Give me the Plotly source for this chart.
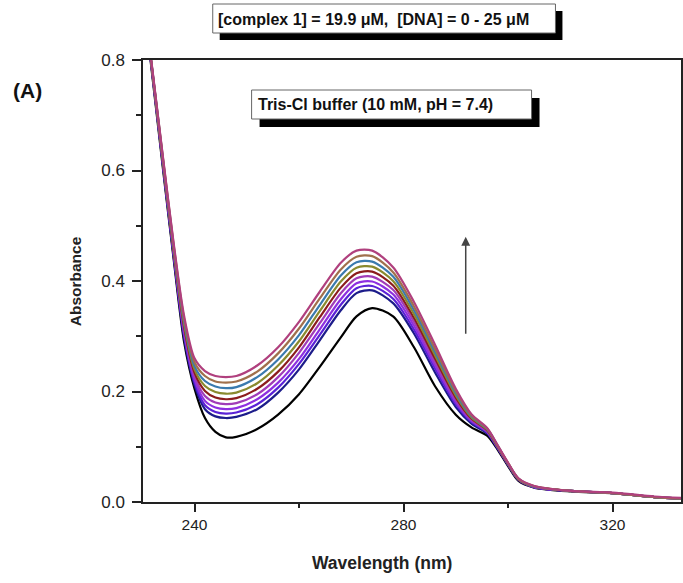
import plotly.graph_objects as go

# ---------------- data ----------------
wavelength = [230, 232, 234, 236, 238, 240, 242, 244, 246, 248, 252, 256, 260, 264, 268, 271,
              274, 278, 282, 286, 290, 293, 296, 298, 300, 302, 305, 312, 320, 328, 334]

abs_0 = [.93, .765, .60, .44, .29, .205, .152, .127, .117, .118, .132, .158, .195, .245, .298, .336,
         .351, .336, .28, .21, .158, .135, .12, .095, .065, .038, .026, .019, .016, .009, .006]
abs_1 = [.93, .77, .605, .445, .297, .212, .168, .155, .152, .154, .168, .198, .24, .293, .347, .378,
         .383, .36, .305, .235, .172, .142, .124, .097, .067, .04, .027, .02, .016, .009, .006]
abs_2 = [.93, .77, .607, .448, .302, .217, .175, .163, .160, .162, .177, .207, .25, .303, .357, .387,
         .391, .368, .312, .242, .177, .145, .126, .098, .068, .04, .027, .02, .016, .009, .006]
abs_3 = [.93, .772, .609, .451, .307, .222, .183, .171, .168, .170, .186, .216, .259, .313, .367, .396,
         .399, .376, .319, .248, .181, .147, .127, .099, .068, .041, .027, .02, .016, .009, .006]
abs_4 = [.93, .772, .611, .454, .312, .228, .192, .180, .177, .179, .195, .226, .27, .324, .378, .405,
         .408, .384, .326, .254, .185, .149, .128, .1, .069, .041, .028, .02, .016, .009, .006]
abs_5 = [.93, .774, .613, .457, .317, .234, .201, .189, .186, .188, .205, .236, .28, .335, .388, .414,
         .417, .392, .333, .26, .189, .151, .13, .1, .069, .041, .028, .02, .016, .009, .006]
abs_6 = [.93, .774, .615, .460, .322, .240, .210, .199, .196, .198, .215, .247, .291, .346, .399, .424,
         .426, .4, .34, .266, .193, .153, .131, .101, .07, .042, .028, .02, .016, .009, .006]
abs_7 = [.93, .776, .617, .463, .327, .246, .219, .209, .206, .208, .226, .258, .302, .357, .41, .434,
         .435, .408, .347, .272, .197, .155, .132, .102, .07, .042, .028, .02, .016, .009, .006]
abs_8 = [.93, .776, .619, .466, .332, .253, .228, .218, .216, .218, .236, .269, .314, .369, .421, .444,
         .445, .416, .354, .278, .201, .157, .133, .102, .071, .042, .029, .02, .016, .009, .006]
abs_9 = [.93, .778, .621, .469, .337, .26, .237, .228, .226, .228, .247, .28, .326, .381, .433, .455,
         .455, .425, .362, .285, .205, .159, .134, .103, .071, .043, .029, .02, .017, .01, .007]

series = [abs_0, abs_1, abs_2, abs_3, abs_4, abs_5, abs_6, abs_7, abs_8, abs_9]
colors = ["#000000", "#1c1c8a", "#5a22d6", "#8e2fe0", "#a03cb8", "#8b1c1c",
          "#8a8a2e", "#3a7aae", "#a0704c", "#b0407e"]

x_ticks = [240, 280, 320]
y_ticks = [0.0, 0.2, 0.4, 0.6, 0.8]
y_tick_text = ["0.0", "0.2", "0.4", "0.6", "0.8"]

# ---------------- figure ----------------
W, H = 683, 583
L, R, T, B = 143, 683, 60, 502  # plot area pixel box


def px(x):
    return (x - L) / (R - L)


def py(y):
    return (B - y) / (B - T)


fig = go.Figure()
for vals, col in zip(series, colors):
    fig.add_trace(go.Scatter(x=wavelength, y=vals, mode="lines",
                             line=dict(color=col, width=2.2, shape="spline", smoothing=0.8),
                             showlegend=False, hoverinfo="skip"))

font_family = "Liberation Sans, Arial, sans-serif"

fig.update_layout(
    width=W, height=H,
    margin=dict(l=L, r=W - R, t=T, b=H - B),
    paper_bgcolor="white", plot_bgcolor="white",
    font=dict(family=font_family, size=15, color="#222"),
    xaxis=dict(range=[230.14, 333.1], tickvals=x_ticks, ticks="outside", ticklen=8,
               tickwidth=1.5, tickcolor="#222", showline=True, linecolor="#222", linewidth=1.5,
               mirror=True, showgrid=False, zeroline=False,
               minor=dict(dtick=20, tick0=240, ticks="outside", ticklen=4, tickcolor="#222", tickwidth=1.5),
               tickfont=dict(size=15.5)),
    yaxis=dict(range=[0, 0.8], tickvals=y_ticks, ticktext=y_tick_text, ticks="outside", ticklen=9,
               tickwidth=1.5, tickcolor="#222", showline=True, linecolor="#222", linewidth=1.5,
               mirror=True, showgrid=False, zeroline=False, ticklabelstandoff=4,
               minor=dict(dtick=0.1, tick0=0, ticks="outside", ticklen=5, tickcolor="#222", tickwidth=1.5),
               tickfont=dict(size=17)),
)

# boxes with shadows
def shadow_box(x0, y0, x1, y1, off):
    fig.add_shape(type="rect", xref="paper", yref="paper",
                  x0=px(x0 + off), x1=px(x1 + off), y0=py(y1 + off), y1=py(y0 + off),
                  fillcolor="black", line=dict(width=0), layer="above")
    fig.add_shape(type="rect", xref="paper", yref="paper",
                  x0=px(x0), x1=px(x1), y0=py(y1), y1=py(y0),
                  fillcolor="white", line=dict(color="#666", width=1), layer="above")


shadow_box(213, 4, 557, 33, 7)
shadow_box(252, 90, 533, 119, 8)

fig.add_annotation(xref="paper", yref="paper", x=px(216), y=py(19), xanchor="left", yanchor="middle",
                   text="<b>[complex 1] = 19.9 μM,  [DNA] = 0 - 25 μM</b>", showarrow=False,
                   font=dict(size=16, color="#111"))
fig.add_annotation(xref="paper", yref="paper", x=px(256), y=py(104), xanchor="left", yanchor="middle",
                   text="<b>Tris-Cl buffer (10 mM, pH = 7.4)</b>", showarrow=False,
                   font=dict(size=16, color="#111"))
fig.add_annotation(xref="paper", yref="paper", x=px(27), y=py(91), xanchor="center", yanchor="middle",
                   text="<b>(A)</b>", showarrow=False, font=dict(size=21, color="#111"))

# axis titles
fig.add_annotation(xref="paper", yref="paper", x=px(383), y=py(563), xanchor="center", yanchor="middle",
                   text="<b>Wavelength (nm)</b>", showarrow=False, font=dict(size=17.5, color="#222"))
fig.add_annotation(xref="paper", yref="paper", x=px(75), y=py(281), xanchor="center", yanchor="middle",
                   text="<b>Absorbance</b>", textangle=-90, showarrow=False, font=dict(size=15.5, color="#222"))

# arrow
fig.add_annotation(x=291.9, y=0.48, ax=291.9, ay=0.302, xref="x", yref="y", axref="x", ayref="y",
                   text="", showarrow=True, arrowhead=2, arrowsize=1.2, arrowwidth=1.5,
                   arrowcolor="#444")

fig.write_html("out.html")
